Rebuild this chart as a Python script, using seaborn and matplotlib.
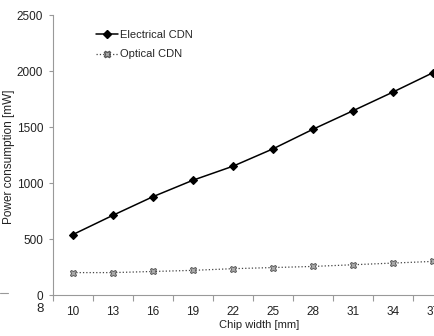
import matplotlib
matplotlib.use("Agg")
import matplotlib.pyplot as plt
import seaborn as sns
import pandas as pd
from matplotlib.lines import Line2D

chip_width = [10, 13, 16, 19, 22, 25, 28, 31, 34, 37]
electrical = [540, 712, 878, 1025, 1150, 1305, 1480, 1645, 1812, 1985]
optical = [200, 200, 210, 220, 235, 245, 255, 270, 285, 300]
y_ticks = [0, 500, 1000, 1500, 2000, 2500]

sns.set_theme(style="white")
plt.rcParams['font.family'] = ['Liberation Sans', 'DejaVu Sans']

W, H = 435, 336
fig = plt.figure(figsize=(W / 100, H / 100), dpi=100)
ax = fig.add_axes([53 / W, (H - 295) / H, 400 / W, 280 / H])

df = pd.DataFrame({
    'Chip width': [str(c) for c in chip_width] * 2,
    'Power': electrical + optical,
    'Series': ['Electrical CDN'] * len(chip_width) + ['Optical CDN'] * len(chip_width),
})

sns.pointplot(data=df[df.Series == 'Electrical CDN'], x='Chip width', y='Power',
              color='black', marker='D', markersize=3.8, linewidth=1.1, linestyle='-', ax=ax)
sns.pointplot(data=df[df.Series == 'Optical CDN'], x='Chip width', y='Power',
              color='#444444', marker='X', markersize=5, linewidth=0.9, linestyle=':',
              markerfacecolor='#aaaaaa', markeredgecolor='#555555', ax=ax)

ax.set_xlim(-0.5, len(chip_width) - 0.5)
ax.set_ylim(0, 2500)
ax.set_yticks(y_ticks)
ax.set_yticklabels([str(v) for v in y_ticks])
ax.set_xticks(range(len(chip_width)))
ax.set_xticklabels([str(c) for c in chip_width])
ax.set_xticks([i - 0.5 for i in range(len(chip_width) + 1)], minor=True)

for s in ['top', 'right']:
    ax.spines[s].set_visible(False)
for s in ['left', 'bottom']:
    ax.spines[s].set_color('#999999')
    ax.spines[s].set_linewidth(0.8)

ax.tick_params(axis='x', which='major', length=0, pad=8, labelsize=8.5, colors='#222222')
ax.tick_params(axis='x', which='minor', length=4, width=0.8, color='#999999', direction='out', bottom=True)
ax.tick_params(axis='y', which='major', length=3, width=0.8, color='#999999', direction='out',
               left=True, labelsize=8.5, labelcolor='#222222', pad=4)

ax.set_xlabel('Chip width [mm]', fontsize=8, color='#222222')
ax.xaxis.set_label_coords((259 - 53) / 400, -25 / 280)
ax.set_ylabel('Power consumption [mW]', fontsize=8.5, color='#222222')
ax.yaxis.set_label_coords((15 - 53) / 400, 0.495)

handles = [
    Line2D([], [], color='black', marker='D', markersize=3.8, linewidth=1.1, linestyle='-'),
    Line2D([], [], color='#444444', marker='X', markersize=5, linewidth=0.9, linestyle=':',
           markerfacecolor='#aaaaaa', markeredgecolor='#555555'),
]
ax.legend(handles, ['Electrical CDN', 'Optical CDN'], loc='upper left',
          bbox_to_anchor=((86 - 53) / 400, 1 - (20 - 15) / 280), frameon=False,
          fontsize=8, handlelength=2.0, handletextpad=0.2, labelspacing=0.85)

# fragment of neighbouring chart at left edge
fig.text(40 / W, 1 - 309 / H, '8', fontsize=9.5, ha='center', va='center', color='#222222')
fig.add_artist(Line2D([0, 8 / W], [1 - 293 / H, 1 - 293 / H], color='#999999', linewidth=0.8,
                      transform=fig.transFigure))

fig.savefig('out.png', dpi=100)
